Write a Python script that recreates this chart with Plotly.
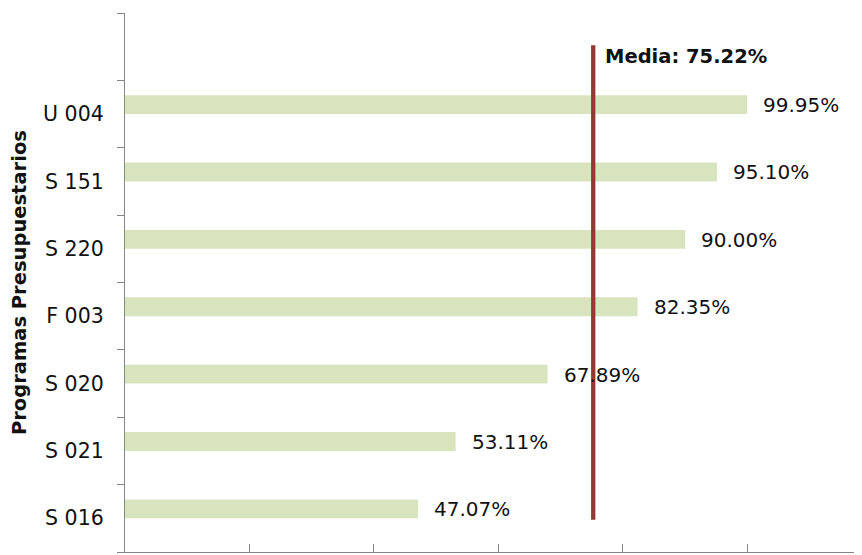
import plotly.graph_objects as go

categories = ["S 016", "S 021", "S 020", "F 003", "S 220", "S 151", "U 004"]
values = [47.07, 53.11, 67.89, 82.35, 90.00, 95.10, 99.95]
value_labels = ["47.07%", "53.11%", "67.89%", "82.35%", "90.00%", "95.10%", "99.95%"]
media = 75.22
media_label = "Media: 75.22%"
x_ticks = [0, 20, 40, 60, 80, 100]
y_title = "Programas Presupuestarios"

AXIS = "#868686"
FONT = "DejaVu Sans"

fig = go.Figure()
fig.add_trace(go.Bar(
    x=values, y=categories, orientation="h",
    marker=dict(color="#d7e4bd", line=dict(width=0)),
    width=0.28, offset=0, showlegend=False, hoverinfo="skip",
))

for v, c, t in zip(values, categories, value_labels):
    fig.add_annotation(x=v, y=c, xref="x", yref="y", text=t, showarrow=False,
                       xanchor="left", yanchor="middle", xshift=14, yshift=9,
                       font=dict(family=FONT, size=20, color="#111111"))

fig.add_shape(type="line", xref="x", yref="y", x0=media, x1=media, y0=-0.02, y1=7.02,
              line=dict(color="#953735", width=4.3))
fig.add_annotation(x=media, y=7, xref="x", yref="y", text="<b>" + media_label + "</b>",
                   showarrow=False, xanchor="left", yanchor="middle", xshift=10, yshift=-10,
                   font=dict(family=FONT, size=19.5, color="#111111"))

fig.add_annotation(x=-0.143, y=0.5, xref="paper", yref="paper", text="<b>" + y_title + "</b>",
                   textangle=-90, showarrow=False, xanchor="center", yanchor="middle",
                   font=dict(family=FONT, size=19.5, color="#111111"))

fig.update_layout(
    width=854, height=547,
    margin=dict(l=117, r=0, t=5, b=3, autoexpand=False),
    paper_bgcolor="white", plot_bgcolor="white",
    font=dict(family=FONT, size=20, color="#111111"),
    xaxis=dict(range=[0, 118.4], tickvals=x_ticks, showticklabels=False,
               ticks="inside", ticklen=8, tickcolor=AXIS, tickwidth=1.3,
               showline=True, linecolor=AXIS, linewidth=1.3,
               showgrid=False, zeroline=False, automargin=False),
    yaxis=dict(type="category", categoryorder="array", categoryarray=categories + [" "],
               range=[-0.5, 7.5], tickson="boundaries",
               ticks="outside", ticklen=7, tickcolor=AXIS, tickwidth=1.3,
               showline=True, linecolor=AXIS, linewidth=1.3,
               showgrid=False, zeroline=False, automargin=False,
               ticklabelstandoff=16,
               tickfont=dict(family=FONT, size=20.5, color="#111111")),
)

fig.write_html("out.html")
